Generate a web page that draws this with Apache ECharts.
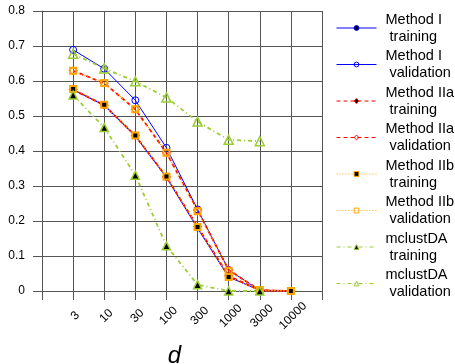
<!DOCTYPE html>
<html>
<head>
<meta charset="utf-8">
<script src="https://cdn.jsdelivr.net/npm/echarts@6/dist/echarts.min.js"></script>
<style>
  html, body { margin: 0; padding: 0; background: #fff; }
  #grafico { width: 455px; height: 364px; }
</style>
</head>
<body>
<div id="grafico"></div>
<script>
const xLabels = ['3', '10', '30', '100', '300', '1000', '3000', '10000'];

const m1Train = [0.575, 0.531, 0.443, 0.325, 0.180, 0.040, 0.002, 0.000];
const m1Val = [0.689, 0.635, 0.545, 0.409, 0.233, 0.060, 0.002, 0.000];
const m2aTrain = [0.575, 0.531, 0.444, 0.326, 0.184, 0.043, 0.002, 0.000];
const m2aVal = [0.629, 0.594, 0.519, 0.395, 0.231, 0.060, 0.002, 0.000];
const m2bTrain = [0.577, 0.532, 0.444, 0.327, 0.183, 0.040, 0.002, 0.000];
const m2bVal = [0.629, 0.594, 0.519, 0.395, 0.228, 0.058, 0.002, 0.000];
const mcTrain = [0.560, 0.467, 0.331, 0.129, 0.018, 0.000, 0.000];
const mcVal = [0.678, 0.636, 0.599, 0.553, 0.484, 0.432, 0.428];

const azul = '#0000ff';
const rojo = '#ff0000';
const naranja = '#ffa500';
const verde = '#9acd32';
const fuente = '"Liberation Sans", Arial, sans-serif';

// x position i+1 on a 0..9 value axis, so the frame has an empty slot each side
const puntos = (valores) => valores.map((v, i) => [i + 1, v]);

const crearSerie = (nombre, valores, color, tipoLinea, ancho, simbolo, tam, relleno, borde) => ({
    name: nombre,
    type: 'line',
    data: puntos(valores),
    symbol: simbolo,
    symbolSize: tam,
    showAllSymbol: true,
    lineStyle: { color: color, width: ancho, type: tipoLinea },
    itemStyle: { color: relleno, borderColor: color, borderWidth: borde },
    emphasis: { disabled: true }
});

const series = [
    crearSerie('Method I\n training', m1Train, azul, 'solid', 1.2, 'circle', 6, '#000', 1),
    crearSerie('Method I\n validation', m1Val, azul, 'solid', 1, 'circle', 7, 'transparent', 1),
    crearSerie('Method IIa\n training', m2aTrain, rojo, [4, 3], 1.8, 'diamond', 8, '#000', 1),
    crearSerie('Method IIa\n validation', m2aVal, rojo, [4, 3], 1.8, 'diamond', 8, 'transparent', 1),
    crearSerie('Method IIb\n training', m2bTrain, naranja, [1, 2], 1.4, 'rect', 6, '#000', 2),
    crearSerie('Method IIb\n validation', m2bVal, naranja, [1, 2], 1.4, 'rect', 6, 'transparent', 2),
    crearSerie('mclustDA\n training', mcTrain, verde, [4, 3, 1, 3], 1.8, 'triangle', 8, '#000', 1.5),
    crearSerie('mclustDA\n validation', mcVal, verde, [4, 3, 1, 3], 1.8, 'triangle', 9, 'transparent', 1.5)
];

const chart = echarts.init(document.getElementById('grafico'), null, { renderer: 'canvas' });

chart.setOption({
    animation: false,
    backgroundColor: '#fff',
    textStyle: { fontFamily: fuente },
    grid: { left: 42, right: 133, top: 11, bottom: 73, containLabel: false, outerBoundsMode: 'none' },
    legend: {
        orient: 'vertical',
        left: 331,
        top: 6,
        itemWidth: 40,
        itemHeight: 6,
        itemGap: 2.5,
        selectedMode: false,
        itemStyle: { borderWidth: 1 },
        lineStyle: { width: 1 },
        textStyle: { fontFamily: fuente, fontSize: 14.5, lineHeight: 17, color: '#000', padding: [0, 0, 0, 4] }
    },
    xAxis: {
        type: 'value',
        min: 0,
        max: 9,
        interval: 1,
        name: 'd',
        nameLocation: 'middle',
        nameGap: 53,
        nameTextStyle: { fontFamily: fuente, fontSize: 24, fontStyle: 'italic', color: '#000', padding: [0, 15, 0, 0] },
        axisLine: { show: true, lineStyle: { color: '#555', width: 1 } },
        axisTick: { show: true, length: 9, lineStyle: { color: '#555', width: 1 } },
        splitLine: { show: true, lineStyle: { color: '#555', width: 1 } },
        axisLabel: {
            rotate: 45,
            align: 'center',
            verticalAlign: 'middle',
            margin: 27,
            padding: [0, 0, 0, 6],
            fontSize: 12,
            color: '#000',
            formatter: (v) => xLabels[v - 1] || ''
        }
    },
    yAxis: {
        type: 'value',
        min: 0,
        max: 0.8,
        interval: 0.1,
        axisLine: { show: true, lineStyle: { color: '#555', width: 1 } },
        axisTick: { show: true, length: 9, lineStyle: { color: '#555', width: 1 } },
        splitLine: { show: true, lineStyle: { color: '#555', width: 1 } },
        axisLabel: { margin: 17, fontSize: 12, color: '#000' }
    },
    series: series
});
</script>
</body>
</html>
